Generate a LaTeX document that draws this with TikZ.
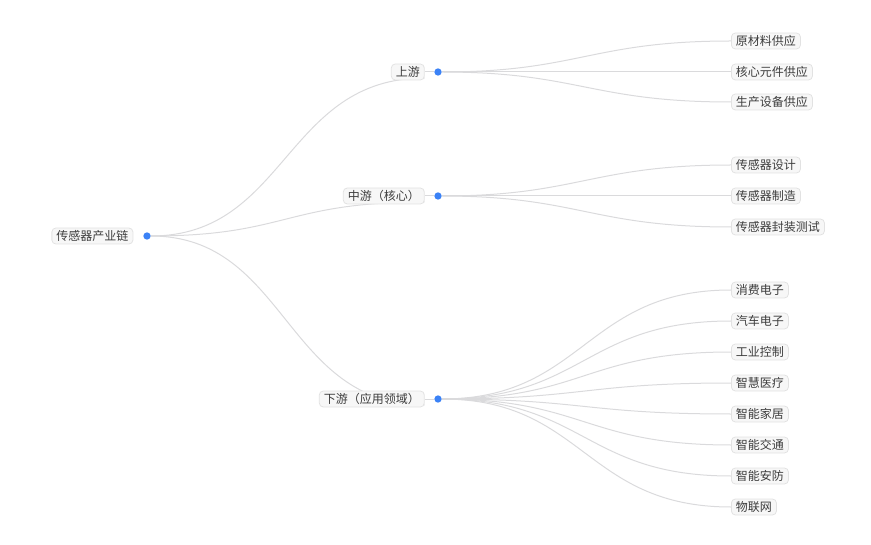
\documentclass[tikz,border=0pt]{standalone}
\usepackage{fontspec}
\setmainfont{Noto Sans CJK SC}
\usepackage{tikz}
\usetikzlibrary{positioning,backgrounds}
\definecolor{dotblue}{RGB}{59,130,246}
\definecolor{linkgray}{RGB}{218,218,220}
\definecolor{boxfill}{RGB}{247,247,247}
\definecolor{boxline}{RGB}{226,226,226}
\definecolor{txtgray}{RGB}{60,60,60}
\tikzset{
    topic/.style={draw=boxline, fill=boxfill, rounded corners=3pt, line width=0.6pt,
        text=txtgray, font=\fontsize{9pt}{10pt}\selectfont, inner xsep=3.4pt,
        inner ysep=1pt, minimum height=12pt},
    dot/.style={circle, fill=dotblue, inner sep=0pt, minimum size=5.5pt},
    link/.style={linkgray, line width=0.75pt}
}

\begin{document}
\begin{tikzpicture}[x=0.75pt, y=-0.75pt, node distance=7pt]
    \useasboundingbox (0,0) rectangle (871,545);
    % root
    \node[dot] (rootdot) at (147,236) {};
    \node[topic, left=7.3pt of rootdot] (root) {传感器产业链};
    % level 1
    \node[dot] (updot) at (438,72) {};
    \node[topic, left=of updot] (up) {上游};
    \node[dot] (middot) at (438,196) {};
    \node[topic, left=of middot] (mid) {中游（核心）};
    \node[dot] (downdot) at (438,399) {};
    \node[topic, left=of downdot] (down) {下游（应用领域）};
    % leaves
    \node[topic, anchor=west] (raw) at (731,41) {原材料供应};
    \node[topic, anchor=west] (core) at (731,72) {核心元件供应};
    \node[topic, anchor=west] (equip) at (731,102) {生产设备供应};
    \node[topic, anchor=west] (design) at (731,165) {传感器设计};
    \node[topic, anchor=west] (make) at (731,196) {传感器制造};
    \node[topic, anchor=west] (pack) at (731,227) {传感器封装测试};
    \node[topic, anchor=west] (consumer) at (731,290) {消费电子};
    \node[topic, anchor=west] (auto) at (731,321) {汽车电子};
    \node[topic, anchor=west] (industry) at (731,352) {工业控制};
    \node[topic, anchor=west] (medical) at (731,383) {智慧医疗};
    \node[topic, anchor=west] (home) at (731,414) {智能家居};
    \node[topic, anchor=west] (traffic) at (731,445) {智能交通};
    \node[topic, anchor=west] (security) at (731,476) {智能安防};
    \node[topic, anchor=west] (iot) at (731,507) {物联网};

    \begin{scope}[on background layer]
        \draw[link] (rootdot) .. controls +(140,0) and +(-140,0) .. ([yshift=-4.5pt]up.east);
        \draw[link] (rootdot) .. controls +(140,0) and +(-140,0) .. ([yshift=-4.5pt]mid.east);
        \draw[link] (rootdot) .. controls +(140,0) and +(-140,0) .. ([yshift=-4.5pt]down.east);
        \draw[link] (up.east) -- (updot);
        \draw[link] (mid.east) -- (middot);
        \draw[link] (down.east) -- (downdot);

        \draw[link] (updot) .. controls +(140,0) and +(-140,0) .. (raw.west);
        \draw[link] (updot) -- (core.west);
        \draw[link] (updot) .. controls +(140,0) and +(-140,0) .. (equip.west);

        \draw[link] (middot) .. controls +(140,0) and +(-140,0) .. (design.west);
        \draw[link] (middot) -- (make.west);
        \draw[link] (middot) .. controls +(140,0) and +(-140,0) .. (pack.west);

        \draw[link] (downdot) .. controls +(146,0) and +(-146,0) .. (consumer.west);
        \draw[link] (downdot) .. controls +(146,0) and +(-146,0) .. (auto.west);
        \draw[link] (downdot) .. controls +(146,0) and +(-146,0) .. (industry.west);
        \draw[link] (downdot) .. controls +(146,0) and +(-146,0) .. (medical.west);
        \draw[link] (downdot) .. controls +(146,0) and +(-146,0) .. (home.west);
        \draw[link] (downdot) .. controls +(146,0) and +(-146,0) .. (traffic.west);
        \draw[link] (downdot) .. controls +(146,0) and +(-146,0) .. (security.west);
        \draw[link] (downdot) .. controls +(146,0) and +(-146,0) .. (iot.west);
    \end{scope}
\end{tikzpicture}
\end{document}
